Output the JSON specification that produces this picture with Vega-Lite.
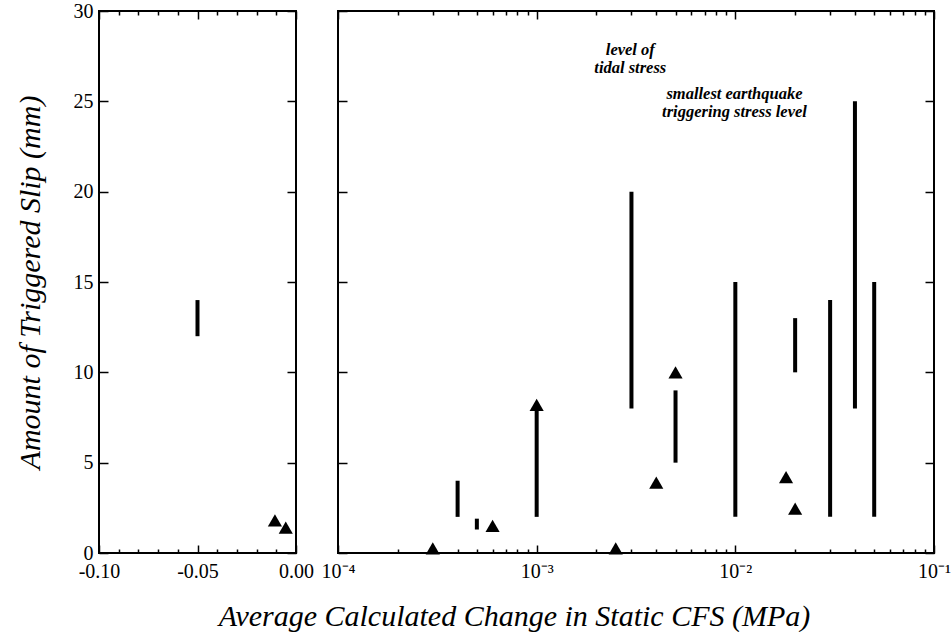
{
  "$schema": "https://vega.github.io/schema/vega-lite/v6.json",
  "background": "white",
  "padding": {"left": 14, "top": 0, "right": 0, "bottom": 0},
  "bounds": "flush",
  "spacing": 42,
  "config": {
    "view": {"stroke": "black", "strokeWidth": 2},
    "axis": {
      "domain": false, "grid": false, "tickColor": "black", "tickWidth": 1.5,
      "labelFont": "Liberation Serif", "labelFontSize": 20, "labelColor": "black",
      "titleFont": "Liberation Serif", "titleFontStyle": "italic", "titleFontWeight": "normal",
      "titleFontSize": 30, "titleColor": "black", "labelFlush": false, "labelOverlap": false
    }
  },
  "hconcat": [
    {
      "width": 197, "height": 542,
      "resolve": {"axis": {"x": "independent", "y": "independent"}},
      "layer": [
        {
          "data": {"values": [{"x": -0.05, "y1": 12, "y2": 14}]},
          "mark": {"type": "rule", "strokeWidth": 4, "color": "black", "strokeCap": "butt"},
          "encoding": {
            "x": {"field": "x", "type": "quantitative", "scale": {"domain": [-0.1, 0], "nice": false, "zero": false},
                  "axis": {"orient": "bottom", "values": [-0.1, -0.05, 0], "tickSize": -8, "labelPadding": 16, "title": null,
                           "labelExpr": "datum.value == 0 ? '0.00' : datum.value < -0.07 ? '-0.10' : '-0.05'"}},
            "y": {"field": "y1", "type": "quantitative", "scale": {"domain": [0, 30], "nice": false},
                  "axis": {"orient": "left", "values": [0, 5, 10, 15, 20, 25, 30], "tickSize": -9, "labelPadding": 15,
                           "title": "Amount of Triggered Slip (mm)", "titlePadding": 28}},
            "y2": {"field": "y2"}
          }
        },
        {
          "data": {"values": [{"x": -0.0107, "y": 1.8}, {"x": -0.0052, "y": 1.4}]},
          "mark": {"type": "point", "shape": "triangle-up", "filled": true, "color": "black", "size": 200, "opacity": 1},
          "encoding": {
            "x": {"field": "x", "type": "quantitative",
                  "axis": {"orient": "bottom", "values": [-0.09, -0.08, -0.07, -0.06, -0.04, -0.03, -0.02, -0.01], "tickSize": -4, "labels": false, "title": null}},
            "y": {"field": "y", "type": "quantitative",
                  "axis": {"orient": "right", "values": [0, 5, 10, 15, 20, 25, 30], "tickSize": -9, "labels": false, "title": null}}
          }
        },
        {
          "data": {"values": []},
          "mark": {"type": "point", "opacity": 0},
          "encoding": {
            "x": {"field": "x", "type": "quantitative",
                  "axis": {"orient": "top", "values": [-0.1, -0.05, 0], "tickSize": -8, "labels": false, "title": null}},
            "y": {"field": "y", "type": "quantitative", "axis": null}
          }
        },
        {
          "data": {"values": []},
          "mark": {"type": "point", "opacity": 0},
          "encoding": {
            "x": {"field": "x", "type": "quantitative",
                  "axis": {"orient": "top", "values": [-0.09, -0.08, -0.07, -0.06, -0.04, -0.03, -0.02, -0.01], "tickSize": -4, "labels": false, "title": null}},
            "y": {"field": "y", "type": "quantitative", "axis": null}
          }
        }
      ]
    },
    {
      "width": 596, "height": 542,
      "resolve": {"axis": {"x": "independent", "y": "independent"}},
      "layer": [
        {
          "data": {"values": [
            {"x": 0.0004, "y1": 2, "y2": 4},
            {"x": 0.0005, "y1": 1.3, "y2": 1.9},
            {"x": 0.001, "y1": 2, "y2": 7.9},
            {"x": 0.003, "y1": 8, "y2": 20},
            {"x": 0.005, "y1": 5, "y2": 9},
            {"x": 0.01, "y1": 2, "y2": 15},
            {"x": 0.02, "y1": 10, "y2": 13},
            {"x": 0.03, "y1": 2, "y2": 14},
            {"x": 0.04, "y1": 8, "y2": 25},
            {"x": 0.05, "y1": 2, "y2": 15}
          ]},
          "mark": {"type": "rule", "strokeWidth": 4, "color": "black", "strokeCap": "butt"},
          "encoding": {
            "x": {"field": "x", "type": "quantitative", "scale": {"type": "log", "domain": [0.0001, 0.1], "nice": false},
                  "axis": {"orient": "bottom", "values": [0.0001, 0.001, 0.01, 0.1], "tickSize": -8, "labelPadding": 16,
                           "labelExpr": "datum.value < 0.0005 ? '10⁻⁴' : datum.value < 0.005 ? '10⁻³' : datum.value < 0.05 ? '10⁻²' : '10⁻¹'",
                           "title": "Average Calculated Change in Static CFS (MPa)", "titleX": 176, "titleY": 63,
                           "titleAlign": "center", "titleBaseline": "middle", "titleAnchor": null}},
            "y": {"field": "y1", "type": "quantitative", "scale": {"domain": [0, 30], "nice": false},
                  "axis": {"orient": "left", "values": [0, 5, 10, 15, 20, 25, 30], "tickSize": -9, "labels": false, "title": null}},
            "y2": {"field": "y2"}
          }
        },
        {
          "data": {"values": [
            {"x": 0.0003, "y": 0.25},
            {"x": 0.0006, "y": 1.5},
            {"x": 0.001, "y": 8.2},
            {"x": 0.0025, "y": 0.25},
            {"x": 0.004, "y": 3.9},
            {"x": 0.005, "y": 10.0},
            {"x": 0.018, "y": 4.2},
            {"x": 0.02, "y": 2.45}
          ]},
          "mark": {"type": "point", "shape": "triangle-up", "filled": true, "color": "black", "size": 200, "opacity": 1},
          "encoding": {
            "x": {"field": "x", "type": "quantitative",
                  "axis": {"orient": "bottom", "values": [0.0002, 0.0003, 0.0004, 0.0005, 0.0006, 0.0007, 0.0008, 0.0009, 0.002, 0.003, 0.004, 0.005, 0.006, 0.007, 0.008, 0.009, 0.02, 0.03, 0.04, 0.05, 0.06, 0.07, 0.08, 0.09], "tickSize": -4, "labels": false, "title": null}},
            "y": {"field": "y", "type": "quantitative",
                  "axis": {"orient": "right", "values": [0, 5, 10, 15, 20, 25, 30], "tickSize": -9, "labels": false, "title": null}}
          }
        },
        {
          "data": {"values": [
            {"x": 0.00296, "y": 27.85, "label": "level of\ntidal stress"},
            {"x": 0.0099, "y": 25.4, "label": "smallest earthquake\ntriggering stress level"}
          ]},
          "mark": {"type": "text", "font": "Liberation Serif", "fontStyle": "italic", "fontWeight": "bold", "fontSize": 16.5,
                   "color": "black", "align": "center", "baseline": "middle", "lineBreak": "\n", "lineHeight": 18},
          "encoding": {
            "x": {"field": "x", "type": "quantitative",
                  "axis": {"orient": "top", "values": [0.0001, 0.001, 0.01, 0.1], "tickSize": -8, "labels": false, "title": null}},
            "y": {"field": "y", "type": "quantitative", "axis": null},
            "text": {"field": "label"}
          }
        },
        {
          "data": {"values": []},
          "mark": {"type": "point", "opacity": 0},
          "encoding": {
            "x": {"field": "x", "type": "quantitative",
                  "axis": {"orient": "top", "values": [0.0002, 0.0003, 0.0004, 0.0005, 0.0006, 0.0007, 0.0008, 0.0009, 0.002, 0.003, 0.004, 0.005, 0.006, 0.007, 0.008, 0.009, 0.02, 0.03, 0.04, 0.05, 0.06, 0.07, 0.08, 0.09], "tickSize": -4, "labels": false, "title": null}},
            "y": {"field": "y", "type": "quantitative", "axis": null}
          }
        }
      ]
    }
  ]
}
